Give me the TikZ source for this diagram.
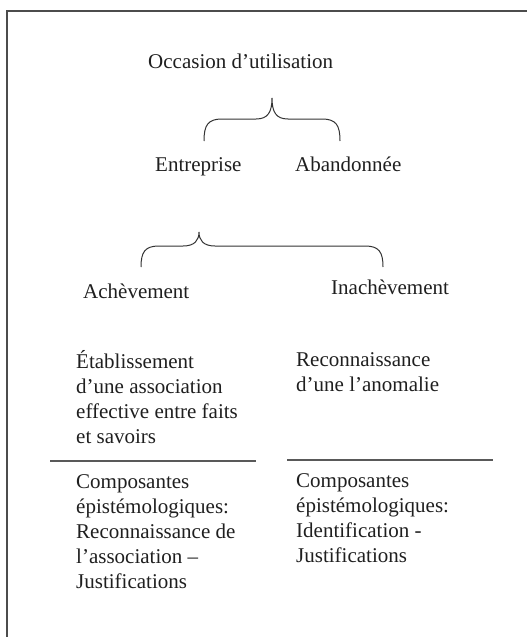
\documentclass[tikz,border=0pt]{standalone}
\usepackage{fontspec}
\setmainfont{Liberation Serif}
\begin{document}
\begin{tikzpicture}[x=1pt,y=-1pt,
  lbl/.style={anchor=base west,inner sep=0pt,font=\fontsize{21}{25}\selectfont,text=black!88},
  blk/.style={lbl,align=left},
  brace/.style={draw=black!80,line width=1pt},
  rule/.style={draw=black!65,line width=1.2pt},
  frame/.style={draw=black!70,line width=1.5pt}]
\useasboundingbox (0,0) rectangle (527,637);
% outer frame, open towards the right and bottom
\draw[frame] (7,637) -- (7,11) -- (527,11);

% level 1
\node[lbl] (occ) at (148,68) {Occasion d’utilisation};
\coordinate (b1tip) at (272,98);
\draw[brace] (204,141) .. controls (204,125) and (208,119) .. (222,119) -- (256,119)
  .. controls (268,119) and (272,112) .. (b1tip)
  .. controls (272,112) and (276,119) .. (288,119) -- (322,119)
  .. controls (336,119) and (340,125) .. (340,141);

% level 2
\node[lbl] (ent) at (155,171) {Entreprise};
\node[lbl] (aba) at (295,171) {Abandonnée};
\coordinate (b2tip) at (199,232);
\draw[brace] (141,267) .. controls (141,252) and (145,246) .. (159,246) -- (183,246)
  .. controls (195,246) and (199,240) .. (b2tip)
  .. controls (199,240) and (203,246) .. (215,246) -- (365,246)
  .. controls (379,246) and (383,252) .. (383,267);

% level 3
\node[lbl] (ach) at (83,298) {Achèvement};
\node[lbl] (ina) at (331,294) {Inachèvement};

% outcomes (multi-line nodes sit on the baseline of their last line)
\node[blk] (etab) at (76,443) {Établissement\\d’une association\\effective entre faits\\et savoirs};
\node[blk] (reco) at (296,391) {Reconnaissance\\d’une l’anomalie};

% separators
\coordinate (r1a) at (50,461);
\coordinate (r1b) at (256,461);
\coordinate (r2a) at (287,460);
\coordinate (r2b) at (493,460);
\draw[rule] (r1a) -- (r1b);
\draw[rule] (r2a) -- (r2b);

% epistemological components
\node[blk] (compa) at (76,588) {Composantes\\épistémologiques:\\Reconnaissance de\\l’association –\\Justifications};
\node[blk] (compb) at (296,562) {Composantes\\épistémologiques:\\Identification -\\Justifications};
\end{tikzpicture}
\end{document}
